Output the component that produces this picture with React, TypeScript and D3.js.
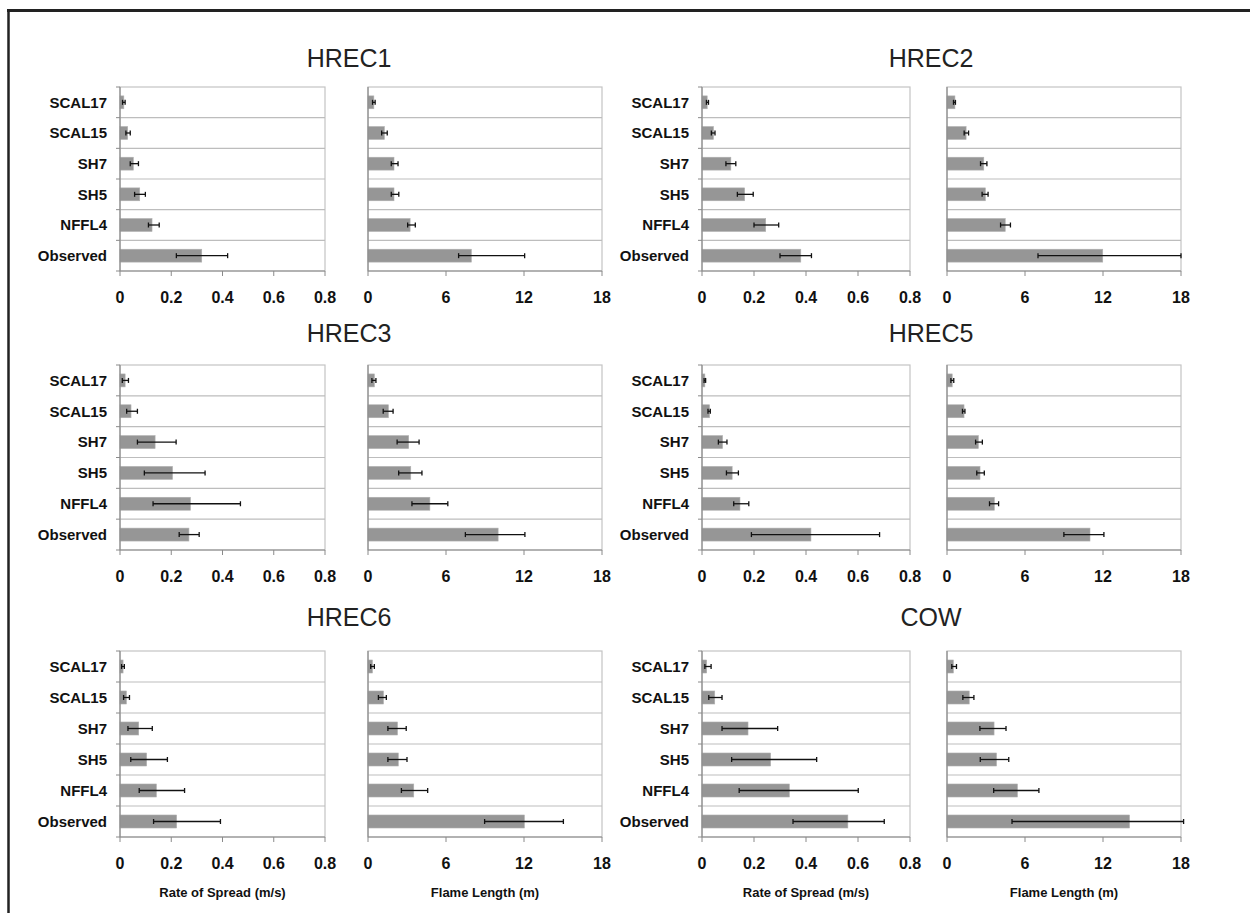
import React from 'react';
import * as d3 from 'd3';

const models = ['SCAL17', 'SCAL15', 'SH7', 'SH5', 'NFFL4', 'Observed'];
const sites = ['HREC1', 'HREC2', 'HREC3', 'HREC5', 'HREC6', 'COW'];
const rosTicks = [0, 0.2, 0.4, 0.6, 0.8];
const flTicks = [0, 6, 12, 18];

// [mean, lower, upper] per model
const hrec1Ros = [[0.015, 0.01, 0.02], [0.03, 0.023, 0.04], [0.052, 0.04, 0.072], [0.077, 0.057, 0.099], [0.125, 0.111, 0.153], [0.319, 0.22, 0.42]];
const hrec1Fl = [[0.45, 0.35, 0.55], [1.26, 1.05, 1.48], [2.0, 1.79, 2.31], [2.0, 1.79, 2.37], [3.24, 3.05, 3.64], [7.95, 6.97, 12.05]];
const hrec2Ros = [[0.02, 0.017, 0.025], [0.044, 0.036, 0.05], [0.111, 0.092, 0.13], [0.164, 0.136, 0.197], [0.245, 0.2, 0.295], [0.38, 0.3, 0.421]];
const hrec2Fl = [[0.61, 0.5, 0.65], [1.47, 1.32, 1.66], [2.83, 2.58, 3.07], [2.95, 2.7, 3.16], [4.48, 4.12, 4.88], [11.98, 7.0, 18.0]];
const hrec3Ros = [[0.02, 0.009, 0.033], [0.043, 0.026, 0.068], [0.137, 0.068, 0.219], [0.205, 0.095, 0.332], [0.275, 0.129, 0.47], [0.269, 0.231, 0.309]];
const hrec3Fl = [[0.49, 0.3, 0.61], [1.57, 1.17, 1.93], [3.13, 2.24, 3.93], [3.29, 2.36, 4.15], [4.76, 3.38, 6.14], [10.01, 7.49, 12.07]];
const hrec5Ros = [[0.011, 0.008, 0.014], [0.029, 0.023, 0.032], [0.079, 0.063, 0.096], [0.116, 0.094, 0.14], [0.146, 0.122, 0.18], [0.419, 0.19, 0.683]];
const hrec5Fl = [[0.4, 0.3, 0.52], [1.31, 1.19, 1.38], [2.41, 2.2, 2.72], [2.54, 2.29, 2.87], [3.64, 3.27, 3.97], [11.0, 8.99, 12.07]];
const hrec6Ros = [[0.012, 0.006, 0.017], [0.025, 0.014, 0.037], [0.073, 0.031, 0.126], [0.104, 0.042, 0.185], [0.142, 0.075, 0.252], [0.221, 0.131, 0.392]];
const hrec6Fl = [[0.34, 0.21, 0.49], [1.19, 0.8, 1.41], [2.27, 1.53, 2.94], [2.33, 1.53, 3.0], [3.52, 2.57, 4.59], [12.03, 8.97, 15.03]];
const cowRos = [[0.018, 0.011, 0.035], [0.049, 0.026, 0.077], [0.177, 0.077, 0.291], [0.264, 0.114, 0.441], [0.336, 0.143, 0.601], [0.561, 0.35, 0.701]];
const cowFl = [[0.49, 0.37, 0.73], [1.71, 1.22, 2.07], [3.62, 2.53, 4.54], [3.81, 2.56, 4.75], [5.42, 3.59, 7.07], [14.04, 5.0, 18.2]];

const rosData = [hrec1Ros, hrec2Ros, hrec3Ros, hrec5Ros, hrec6Ros, cowRos];
const flData = [hrec1Fl, hrec2Fl, hrec3Fl, hrec5Fl, hrec6Fl, cowFl];

const FONT = "'Liberation Sans', Arial, Helvetica, sans-serif";
const cols = [
  { ros: [120, 325], fl: [368, 602] },
  { ros: [702, 910], fl: [947, 1181] },
];
const rows = [
  { top: 87, bottom: 271, title: 67 },
  { top: 365, bottom: 550, title: 342 },
  { top: 651, bottom: 837, title: 626 },
];

function SubPlot({ data, x0, x1, top, bottom, max, ticks, showLabels }: any) {
  const x = d3.scaleLinear().domain([0, max]).range([x0, x1]);
  const y = d3.scaleBand().domain(models).range([top, bottom]).paddingInner(0.58).paddingOuter(0.29);
  const step = y.step();
  const bounds = d3.range(models.length + 1).map(i => top + i * (bottom - top) / models.length);
  return (
    <g>
      <rect x={x0} y={top} width={x1 - x0} height={bottom - top} fill="#fff" stroke="#c4c4c4" strokeWidth={1.2} />
      {bounds.slice(1, -1).map((b, i) => (
        <line key={'g' + i} x1={x0} x2={x1} y1={b} y2={b} stroke="#bdbdbd" strokeWidth={1.2} />
      ))}
      {data.map((d: number[], i: number) => {
        const cy = y(models[i])! + y.bandwidth() / 2;
        return (
          <g key={i}>
            <rect x={x(0)} y={y(models[i])} width={x(d[0]) - x(0)} height={y.bandwidth()} fill="#969696" stroke="#b0b0b0" strokeWidth={0.6} />
            <line x1={x(d[1])} x2={x(d[2])} y1={cy} y2={cy} stroke="#111" strokeWidth={1.3} />
            <line x1={x(d[1])} x2={x(d[1])} y1={cy - 2.5} y2={cy + 2.5} stroke="#111" strokeWidth={1.3} />
            <line x1={x(d[2])} x2={x(d[2])} y1={cy - 2.5} y2={cy + 2.5} stroke="#111" strokeWidth={1.3} />
          </g>
        );
      })}
      {/* category axis */}
      <line x1={x0} x2={x0} y1={top} y2={bottom} stroke="#8a8a8a" strokeWidth={1.2} />
      {showLabels && bounds.map((b, i) => (
        <line key={'t' + i} x1={x0 - 4} x2={x0} y1={b} y2={b} stroke="#8a8a8a" strokeWidth={1} />
      ))}
      {showLabels && models.map((m, i) => (
        <text key={m} x={x0 - 13} y={y(m)! + y.bandwidth() / 2} dy="0.36em" textAnchor="end"
          fontFamily={FONT} fontWeight="bold" fontSize={15} fill="#111">{m}</text>
      ))}
      {/* value axis */}
      <line x1={x0} x2={x1} y1={bottom} y2={bottom} stroke="#8a8a8a" strokeWidth={1.2} />
      {ticks.map((t: number) => (
        <g key={t}>
          <line x1={x(t)} x2={x(t)} y1={bottom} y2={bottom + 5} stroke="#8a8a8a" strokeWidth={1} />
          <text x={x(t)} y={bottom + 32} textAnchor="middle" fontFamily={FONT} fontWeight="bold" fontSize={16} fill="#111">{String(t)}</text>
        </g>
      ))}
    </g>
  );
}

export default function App() {
  return (
    <svg width={1250} height={913} style={{ position: 'absolute', left: 0, top: 0, display: 'block', background: '#fff' }}>
      <rect x={0} y={0} width={1250} height={913} fill="#fff" />
      <line x1={7} x2={1250} y1={10.5} y2={10.5} stroke="#222" strokeWidth={3} />
      <line x1={8.5} x2={8.5} y1={9} y2={913} stroke="#222" strokeWidth={2.5} />
      {sites.map((s, i) => {
        const c = cols[i % 2];
        const r = rows[Math.floor(i / 2)];
        return (
          <g key={s}>
            <text x={c.ros[0] + 229} y={r.title} textAnchor="middle" fontFamily={FONT} fontSize={25} fill="#222">{s}</text>
            <SubPlot data={rosData[i]} x0={c.ros[0]} x1={c.ros[1]} top={r.top} bottom={r.bottom} max={0.8} ticks={rosTicks} showLabels />
            <SubPlot data={flData[i]} x0={c.fl[0]} x1={c.fl[1]} top={r.top} bottom={r.bottom} max={18} ticks={flTicks} showLabels={false} />
          </g>
        );
      })}
      {cols.map((c, i) => (
        <g key={'ax' + i}>
          <text x={(c.ros[0] + c.ros[1]) / 2} y={897} textAnchor="middle" fontFamily={FONT} fontWeight="bold" fontSize={13} fill="#111">Rate of Spread (m/s)</text>
          <text x={(c.fl[0] + c.fl[1]) / 2} y={897} textAnchor="middle" fontFamily={FONT} fontWeight="bold" fontSize={13} fill="#111">Flame Length (m)</text>
        </g>
      ))}
    </svg>
  );
}
